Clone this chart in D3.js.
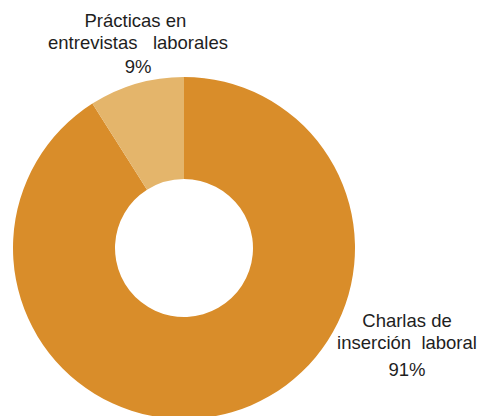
<!DOCTYPE html>
<html>
<head>
<meta charset="utf-8">
<script src="https://cdn.jsdelivr.net/npm/d3@7"></script>
<style>
  html, body { margin: 0; padding: 0; background: #fff; }
  svg { display: block; }
  text { font-family: "Liberation Sans", Arial, sans-serif; fill: #1e1e1e; }
</style>
</head>
<body>
<svg id="chart" width="482" height="416"></svg>
<script>
// Distribución de actividades (porcentaje)
const categories = ["Charlas de inserción laboral", "Prácticas en entrevistas laborales"];
const values = [91, 9];
const valueLabels = ["91%", "9%"];
const labelLines = [["Charlas de", "inserción  laboral"], ["Prácticas en ", "entrevistas   laborales"]];
const colors = ["#D98D2A", "#E4B56B"];

const svg = d3.select("#chart");
const cx = 184, cy = 248, outerR = 171, innerR = 69;

const pie = d3.pie().sort(null).value(d => d.value);
const arcs = pie(categories.map((c, i) => ({ name: c, value: values[i] })));
const arc = d3.arc().innerRadius(innerR).outerRadius(outerR);

const g = svg.append("g").attr("transform", `translate(${cx},${cy})`);
g.selectAll("path")
  .data(arcs)
  .join("path")
  .attr("d", arc)
  .attr("fill", (d, i) => colors[i]);

// Etiquetas de cada sector
const labelPos = [
  { x: 407, ys: [327, 349, 376] },
  { x: 138, ys: [27, 49, 73] }
];
labelPos.forEach((p, i) => {
  const t = svg.append("g");
  const lines = labelLines[i].concat([valueLabels[i]]);
  lines.forEach((line, j) => {
    t.append("text")
      .attr("x", p.x)
      .attr("y", p.ys[j])
      .attr("text-anchor", "middle")
      .attr("font-size", 18.5)
      .attr("xml:space", "preserve")
      .style("white-space", "pre")
      .text(line);
  });
});
</script>
</body>
</html>
